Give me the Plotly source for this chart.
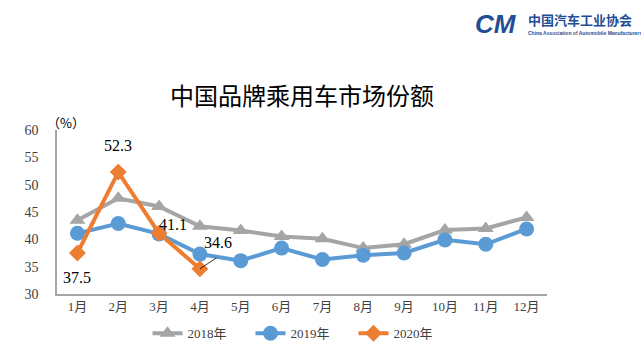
import plotly.graph_objects as go

months = ["1月", "2月", "3月", "4月", "5月", "6月", "7月", "8月", "9月", "10月", "11月", "12月"]
share_2018 = [43.5, 47.5, 46.0, 42.4, 41.6, 40.5, 40.1, 38.4, 39.1, 41.7, 42.0, 44.0]
share_2019 = [41.1, 42.9, 41.0, 37.3, 36.1, 38.4, 36.3, 37.1, 37.5, 39.9, 39.1, 41.9]
share_2020 = [37.5, 52.3, 41.1, 34.6]
y_ticks = [30, 35, 40, 45, 50, 55, 60]

GRAY = "#A5A5A5"
BLUE = "#5B9BD5"
ORANGE = "#ED7D31"
SERIF = "Liberation Serif, Noto Sans CJK SC"

fig = go.Figure()
fig.add_trace(go.Scatter(x=months, y=share_2018, name="2018年", mode="lines+markers",
                         line=dict(color=GRAY, width=4),
                         marker=dict(symbol="triangle-up", size=14, color=GRAY)))
fig.add_trace(go.Scatter(x=months, y=share_2019, name="2019年", mode="lines+markers",
                         line=dict(color=BLUE, width=4),
                         marker=dict(symbol="circle", size=15, color=BLUE)))
fig.add_trace(go.Scatter(x=months[:4], y=share_2020, name="2020年", mode="lines+markers",
                         line=dict(color=ORANGE, width=4),
                         marker=dict(symbol="diamond", size=13, color=ORANGE)))

# data labels for 2020 (xshift, yshift in px; last one has a leader line)
label_offsets = [(0, -24), (0, 27), (14, 9), (18, 26)]
for i, (m, v, (dx, dy)) in enumerate(zip(months[:4], share_2020, label_offsets)):
    fig.add_annotation(x=m, y=v, text=f"{v}", showarrow=False, xshift=dx, yshift=dy,
                       yanchor="middle", font=dict(family=SERIF, size=16, color="black"))
    if i == 3:
        fig.add_annotation(x=m, y=v, text=" ", showarrow=True, arrowhead=0,
                           arrowwidth=0.8, arrowcolor="black", ax=18, ay=-12,
                           font=dict(size=1))

fig.update_layout(
    width=641, height=350,
    margin=dict(l=57, r=94, t=130, b=56, autoexpand=False),
    plot_bgcolor="white", paper_bgcolor="white",
    showlegend=True,
    legend=dict(orientation="h", x=0.5, xanchor="center", y=-0.24, yanchor="middle",
                font=dict(family=SERIF, size=13, color="#404040"),
                itemwidth=30, tracegroupgap=0, entrywidth=58, entrywidthmode="pixels"),
    xaxis=dict(range=[-0.5, 11.5], showline=True, linecolor="#A6A6A6", linewidth=1.5,
               showgrid=False, ticks="", tickfont=dict(family=SERIF, size=13, color="#404040"),
               zeroline=False, automargin=False),
    yaxis=dict(range=[30, 60], tickvals=y_ticks, showline=True, linecolor="#A6A6A6",
               linewidth=1.5, showgrid=False, ticks="", zeroline=False, automargin=False,
               tickfont=dict(family=SERIF, size=14, color="#404040"), ticklabelstandoff=14),
)

fig.add_annotation(text="中国品牌乘用车市场份额", xref="paper", yref="paper", x=0.5, y=1.0,
                   yanchor="middle", yshift=36, showarrow=False,
                   font=dict(family="Noto Sans CJK SC", size=24, color="black"))
fig.add_annotation(text="（%）", xref="paper", yref="paper", x=0.0, y=1.0, xanchor="left",
                   yanchor="middle", yshift=8, xshift=-12, showarrow=False,
                   font=dict(family="Noto Sans CJK SC", size=13, color="black"))

# logo
fig.add_annotation(text="<b><i>CM</i></b>", xref="paper", yref="paper", x=1.0, y=1.0,
                   xshift=-74, yshift=106, xanchor="left", yanchor="middle", showarrow=False,
                   font=dict(family="Liberation Sans", size=26, color="#1F4E96"))
fig.add_annotation(text="<b>中国汽车工业协会</b>", xref="paper", yref="paper", x=1.0, y=1.0,
                   xshift=-21, yshift=111, xanchor="left", yanchor="middle", showarrow=False,
                   font=dict(family="Noto Sans CJK SC", size=13, color="#1F4E96"))
fig.add_annotation(text="<b>China Association of Automobile Manufacturers</b>", xref="paper",
                   yref="paper", x=1.0, y=1.0, xshift=-21, yshift=97, xanchor="left",
                   yanchor="middle", showarrow=False,
                   font=dict(family="Liberation Sans", size=5, color="#1F4E96"))

fig.write_html("out.html")
